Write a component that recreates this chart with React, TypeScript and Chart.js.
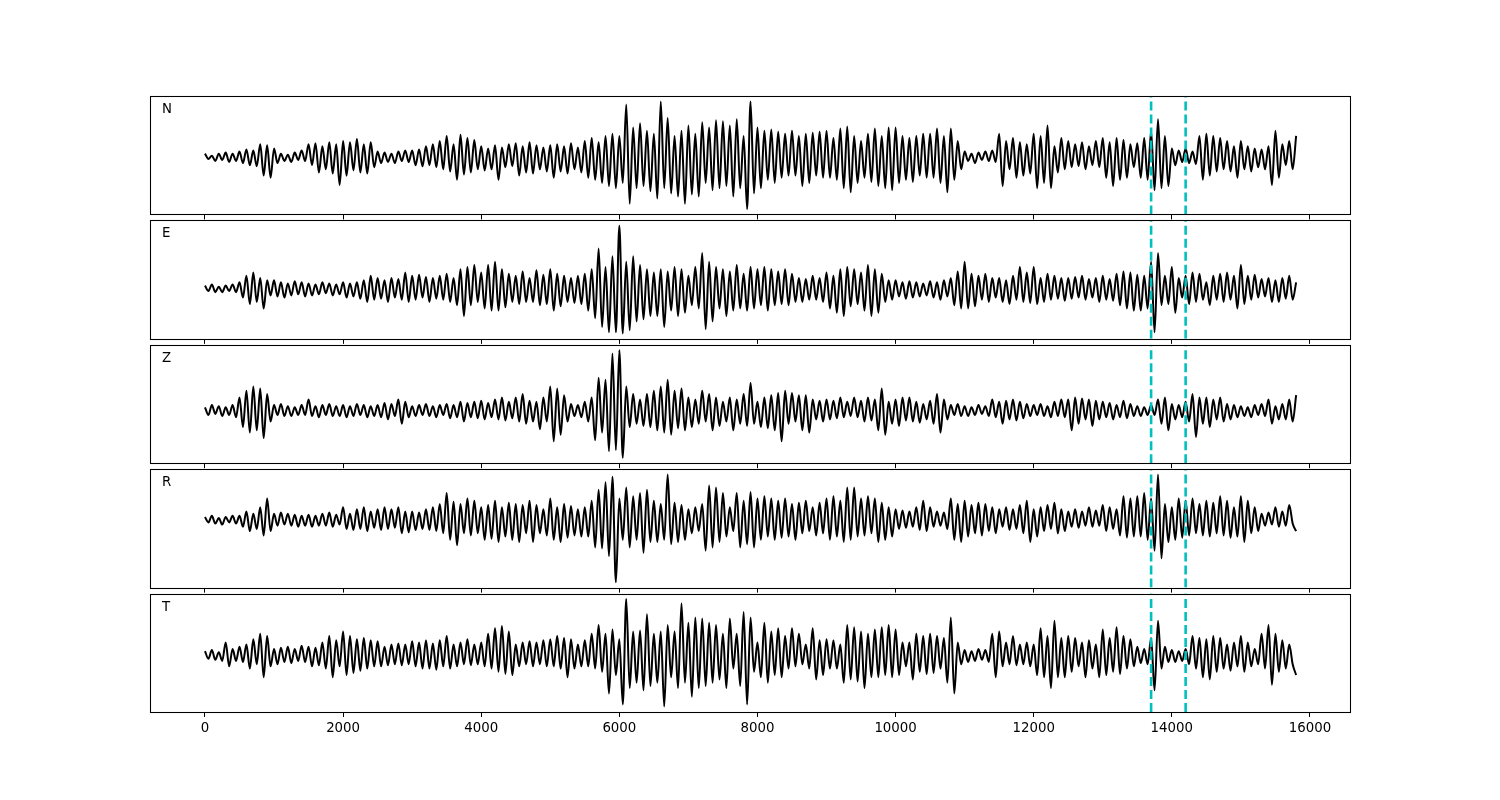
import React, { useEffect, useRef } from "react";
import { Chart, registerables } from "chart.js";

Chart.register(...registerables);

// ---------------- data ----------------
const SAMPLE_STEP = 50; // samples every 50 units along x (0 .. 15800)
const X_MIN = -796;
const X_MAX = 16580;
const X_TICKS = [0, 2000, 4000, 6000, 8000, 10000, 12000, 14000, 16000];
const X_TICK_LABELS = ["0", "2000", "4000", "6000", "8000", "10000", "12000", "14000", "16000"];
const PICK_TIMES = [13700, 14200];
const CHANNELS = ["N", "E", "Z", "R", "T"];

const N_TRACE = [
  3, -2, 1, -4, 3, -3, 4, -5, 3, -4,
  5, -6, 7, -8, 6, -9, 12, -18, 11, -20,
  8, -6, 3, -4, 2, -5, 4, -3, 6, -4,
  12, -8, 13, -15, 10, -12, 14, -16, 12, -27,
  15, -18, 14, -13, 17, -15, 12, -16, 14, -10,
  5, -6, 4, -5, 3, -6, 5, -4, 6, -5,
  6, -8, 7, -9, 10, -8, 12, -10, 15, -12,
  20, -14, 12, -22, 21, -17, 18, -15, 16, -12,
  10, -13, 8, -12, 11, -22, 9, -10, 12, -9,
  13, -18, 10, -15, 14, -16, 11, -12, 9, -14,
  11, -20, 12, -14, 10, -16, 13, -12, 9, -15,
  15, -20, 18, -22, 14, -25, 20, -28, 22, -30,
  20, -25, 50, -45, 28, -30, 32, -28, 25, -33,
  22, -40, 53, -30, 37, -35, 20, -38, 25, -45,
  30, -36, 22, -38, 33, -25, 28, -32, 35, -30,
  34, -28, 30, -38, 36, -30, 20, -50, 53, -35,
  28, -30, 25, -22, 26, -25, 24, -20, 22, -18,
  25, -18, 20, -28, 22, -25, 23, -18, 24, -20,
  25, -20, 18, -22, 27, -30, 29, -34, 20, -25,
  15, -20, 22, -24, 27, -28, 20, -30, 28, -32,
  28, -25, 20, -22, 18, -24, 20, -18, 22, -20,
  22, -20, 27, -25, 20, -34, 27, -22, 15, -12,
  5, -4, 3, -6, 4, -3, 5, -4, 6, -5,
  22, -28, 15, -12, 18, -20, 14, -18, 12, -16,
  22, -30, 20, -25, 30, -30, 10, -15, 18, -12,
  15, -10, 12, -9, 14, -12, 10, -8, 15, -10,
  18, -20, 14, -28, 18, -22, 16, -20, 12, -10,
  13, -20, 18, -22, 25, -32, 36, -30, 20, -28,
  8, -8, 6, -5, 8, -6, 5, -7, 20, -22,
  22, -18, 20, -14, 18, -12, 15, -14, 10, -20,
  15, -12, 10, -14, 8, -10, 7, -12, 10, -27,
  25, -20, 12, -8, 15, -12, 20,
];

const E_TRACE = [
  3, -2, 4, -3, 2, -3, 3, -2, 4, -3,
  6, -8, 12, -14, 15, -12, 10, -18, 8, -6,
  8, -7, 6, -8, 5, -6, 7, -5, 6, -7,
  5, -6, 4, -5, 6, -4, 5, -6, 4, -5,
  6, -8, 5, -7, 6, -9, 8, -12, 12, -10,
  10, -9, 8, -12, 10, -8, 9, -10, 15, -12,
  12, -10, 13, -8, 11, -12, 10, -9, 12, -10,
  14, -12, 10, -15, 18, -25, 20, -15, 22, -12,
  15, -18, 22, -20, 25, -20, 18, -17, 14, -12,
  12, -14, 16, -12, 10, -12, 17, -15, 13, -14,
  18, -20, 14, -16, 12, -12, 10, -13, 12, -14,
  14, -20, 18, -27, 37, -35, 20, -40, 30, -40,
  58, -41, 25, -38, 30, -30, 22, -28, 18, -25,
  15, -25, 18, -35, 16, -20, 20, -25, 18, -22,
  12, -15, 20, -18, 33, -37, 25, -30, 20, -18,
  18, -25, 16, -20, 22, -18, 14, -20, 20, -18,
  18, -15, 20, -20, 18, -15, 16, -14, 18, -15,
  14, -12, 10, -12, 9, -10, 12, -10, 10, -12,
  15, -18, 12, -22, 18, -25, 20, -16, 18, -14,
  15, -20, 22, -25, 18, -22, 14, -12, 8, -10,
  8, -7, 6, -9, 7, -8, 6, -7, 5, -6,
  7, -8, 6, -10, 8, -7, 10, -15, 16, -18,
  25, -18, 14, -16, 12, -10, 14, -12, 10, -8,
  10, -12, 8, -14, 12, -10, 20, -12, 15, -13,
  20, -14, 10, -12, 14, -10, 12, -9, 10, -11,
  10, -9, 11, -8, 12, -10, 9, -8, 10, -12,
  12, -10, 9, -11, 14, -15, 16, -18, 15, -20,
  13, -20, 12, -18, 25, -40, 33, -15, 12, -14,
  20, -22, 10, -8, 12, -14, 15, -12, 14, -10,
  6, -15, 12, -10, 14, -12, 15, -10, 12, -18,
  22, -14, 12, -10, 13, -8, 9, -7, 10, -12,
  8, -12, 10, -9, 12, -10, 6,
];

const Z_TRACE = [
  3, -4, 5, -3, 4, -5, 3, -4, 5, -6,
  12, -15, 18, -20, 22, -18, 20, -25, 15, -10,
  5, -4, 6, -5, 4, -5, 3, -4, 5, -4,
  10, -5, 4, -6, 5, -4, 6, -5, 4, -5,
  5, -6, 4, -5, 6, -4, 5, -6, 4, -5,
  5, -6, 7, -8, 6, -5, 10, -12, 8, -6,
  4, -5, 5, -4, 6, -5, 4, -6, 5, -4,
  6, -7, 5, -6, 8, -10, 7, -6, 8, -7,
  9, -8, 7, -6, 10, -8, 12, -9, 8, -7,
  12, -10, 15, -12, 9, -10, 8, -17, 12, -10,
  22, -28, 20, -22, 14, -10, 6, -5, 5, -6,
  8, -10, 12, -27, 30, -20, 28, -37, 52, -36,
  55, -43, 22, -15, 15, -12, 10, -14, 15, -15,
  18, -18, 22, -20, 28, -22, 18, -16, 20, -18,
  12, -15, 10, -12, 18, -10, 15, -18, 12, -14,
  8, -10, 12, -18, 10, -12, 15, -14, 25, -12,
  8, -15, 12, -16, 14, -18, 16, -28, 18, -12,
  16, -10, 14, -18, 14, -20, 10, -8, 9, -10,
  10, -8, 9, -7, 12, -6, 8, -5, 12, -6,
  9, -10, 12, -9, 10, -18, 20, -22, 8, -12,
  10, -14, 12, -9, 12, -10, 8, -11, 6, -8,
  9, -12, 15, -20, 10, -8, 5, -4, 6, -5,
  4, -5, 3, -4, 5, -3, 4, -5, 10, -6,
  8, -12, 9, -8, 10, -9, 8, -7, 6, -5,
  5, -4, 6, -5, 4, -6, 8, -5, 10, -6,
  10, -18, 12, -12, 11, -8, 10, -14, 9, -8,
  8, -6, 7, -8, 5, -6, 9, -7, 6, -5,
  4, -5, 3, -4, 5, -4, 10, -12, 12, -18,
  6, -8, 5, -6, 8, -10, 15, -24, 12, -12,
  12, -15, 10, -8, 12, -10, 6, -8, 5, -6,
  4, -5, 3, -6, 5, -4, 6, -5, 10, -12,
  4, -8, 6, -8, 10, -10, 14,
];

const R_TRACE = [
  3, -2, 4, -3, 2, -4, 3, -2, 4, -3,
  4, -6, 8, -10, 6, -8, 12, -14, 20, -10,
  6, -5, 7, -4, 6, -5, 5, -6, 4, -5,
  5, -6, 4, -5, 6, -5, 7, -6, 5, -4,
  12, -8, 6, -9, 10, -8, 12, -10, 8, -7,
  10, -9, 12, -8, 10, -7, 12, -12, 8, -11,
  8, -9, 7, -8, 10, -9, 12, -10, 15, -12,
  25, -18, 17, -23, 15, -12, 20, -14, 18, -12,
  12, -18, 14, -17, 18, -20, 12, -15, 16, -18,
  15, -20, 14, -12, 18, -20, 14, -12, 10, -14,
  20, -18, 12, -20, 15, -16, 13, -14, 10, -15,
  12, -15, 18, -25, 28, -26, 35, -33, 40, -57,
  20, -18, 30, -25, 22, -18, 25, -30, 28, -20,
  18, -20, 15, -18, 42, -22, 16, -20, 14, -18,
  10, -12, 12, -10, 15, -28, 32, -25, 30, -20,
  25, -15, 12, -10, 25, -25, 18, -22, 26, -25,
  20, -18, 22, -15, 20, -18, 18, -16, 20, -15,
  15, -18, 16, -12, 18, -10, 12, -14, 16, -12,
  20, -18, 22, -15, 18, -20, 30, -18, 30, -15,
  20, -14, 22, -12, 20, -20, 16, -18, 12, -15,
  10, -8, 9, -7, 8, -6, 12, -9, 18, -10,
  12, -6, 8, -5, 7, -8, 20, -18, 15, -20,
  18, -15, 14, -12, 16, -14, 15, -10, 12, -12,
  10, -6, 12, -9, 10, -8, 14, -12, 18, -20,
  10, -15, 12, -10, 14, -8, 16, -12, 10, -10,
  8, -6, 10, -7, 8, -5, 12, -6, 9, -5,
  14, -10, 12, -8, 10, -14, 22, -16, 20, -15,
  22, -15, 25, -18, 20, -28, 42, -35, 15, -20,
  12, -18, 20, -16, 18, -14, 20, -12, 15, -14,
  18, -15, 16, -12, 22, -14, 18, -16, 12, -15,
  22, -20, 18, -12, 12, -10, 6, -5, 7, -4,
  12, -6, 8, -5, 14, -3, -10,
];

const T_TRACE = [
  4, -3, 5, -4, 3, -5, 12, -10, 6, -5,
  8, -6, 10, -12, 15, -8, 20, -20, 18, -10,
  6, -8, 7, -6, 8, -7, 6, -5, 9, -6,
  8, -10, 7, -9, 12, -12, 18, -20, 14, -10,
  22, -18, 18, -16, 15, -14, 16, -12, 14, -10,
  13, -10, 8, -9, 10, -8, 11, -9, 10, -8,
  13, -10, 12, -12, 14, -12, 11, -13, 14, -10,
  18, -12, 10, -10, 12, -8, 15, -9, 10, -8,
  12, -10, 20, -12, 25, -15, 27, -17, 22, -18,
  10, -10, 12, -8, 13, -10, 12, -8, 14, -10,
  15, -10, 18, -12, 16, -20, 15, -12, 10, -10,
  14, -10, 20, -12, 28, -15, 20, -35, 24, -18,
  15, -45, 52, -30, 22, -25, 23, -32, 38, -28,
  20, -25, 22, -47, 28, -20, 22, -30, 48, -25,
  30, -38, 35, -30, 34, -28, 30, -25, 28, -22,
  20, -30, 34, -12, 20, -28, 40, -45, 35, -15,
  12, -20, 30, -25, 22, -18, 25, -20, 18, -12,
  25, -10, 20, -8, 10, -12, 25, -22, 14, -18,
  15, -12, 14, -12, 10, -25, 28, -22, 26, -24,
  22, -30, 20, -20, 24, -20, 26, -18, 28, -20,
  24, -18, 12, -10, 12, -22, 20, -15, 18, -17,
  20, -16, 18, -12, 16, -25, 35, -35, 12, -8,
  5, -6, 4, -5, 6, -4, 5, -6, 20, -20,
  22, -10, 12, -8, 18, -9, 10, -8, 12, -10,
  10, -18, 25, -20, 18, -30, 32, -20, 16, -20,
  18, -15, 16, -10, 12, -20, 14, -12, 10, -20,
  24, -18, 16, -15, 26, -17, 18, -12, 15, -10,
  8, -7, 6, -8, 16, -32, 32, -12, 8, -6,
  5, -6, 4, -5, 6, -8, 18, -12, 16, -20,
  15, -22, 18, -15, 16, -12, 10, -14, 12, -10,
  18, -15, 12, -10, 6, -8, 20, -12, 28, -27,
  20, -15, 14, -12, 10, -8, -18,
];

const TRACES = [N_TRACE, E_TRACE, Z_TRACE, R_TRACE, T_TRACE];

// ---------------- layout ----------------
const FIG_W = 1500;
const FIG_H = 800;
const AX_LEFT = 150;
const AX_RIGHT = 1350;
const AX_TOP = 96;
const AX_BOTTOM = 712;
const H_SPACE = 0.05;
const N_AX = CHANNELS.length;
const AX_H = (AX_BOTTOM - AX_TOP) / (N_AX + H_SPACE * (N_AX - 1));
const AX_GAP = AX_H * H_SPACE;

const FONT = '"DejaVu Sans", "Liberation Sans", sans-serif';
const TRACE_COLOR = "#000000";
const PICK_COLOR = "#00bfbf";

const framePlugin = {
  id: "frame",
  afterDraw(chart: any, _args: any, opts: any) {
    const { ctx, chartArea: a } = chart;
    ctx.save();
    ctx.strokeStyle = "#000";
    ctx.lineWidth = 1.07;
    const l = Math.round(a.left) + 0.5;
    const t = Math.round(a.top) + 0.5;
    const r = Math.round(a.right) + 0.5;
    const b = Math.round(a.bottom) + 0.5;
    ctx.strokeRect(l, t, r - l, b - t);
    ctx.fillStyle = "#000";
    ctx.font = `13.33px ${FONT}`;
    ctx.textBaseline = "alphabetic";
    ctx.textAlign = "left";
    ctx.fillText(opts.label || "", a.left + 12, a.top + 17);
    ctx.restore();
  },
};

function makeConfig(idx: number): any {
  const values = TRACES[idx];
  const isLast = idx === N_AX - 1;
  const top = AX_TOP + idx * (AX_H + AX_GAP);
  const bottom = top + AX_H;
  const axisH = isLast ? 30 : 5;
  const dMin = Math.min(...values);
  const dMax = Math.max(...values);
  const margin = (dMax - dMin) * 0.05;
  const yMin = dMin - margin;
  const yMax = dMax + margin;

  const traceData = values.map((v, i) => ({ x: i * SAMPLE_STEP, y: v }));
  const pickSets = PICK_TIMES.map((t) => ({
    data: [
      { x: t, y: yMin },
      { x: t, y: yMax },
    ],
    borderColor: PICK_COLOR,
    borderWidth: 2.6,
    borderDash: [9, 4],
    borderCapStyle: "butt",
    pointRadius: 0,
    tension: 0,
    fill: false,
  }));

  return {
    type: "line",
    data: {
      datasets: [
        ...pickSets,
        {
          data: traceData,
          borderColor: TRACE_COLOR,
          borderWidth: 2,
          borderJoinStyle: "round",
          pointRadius: 0,
          cubicInterpolationMode: "monotone",
          fill: false,
        },
      ],
    },
    options: {
      responsive: false,
      maintainAspectRatio: false,
      devicePixelRatio: 1,
      animation: false,
      events: [],
      layout: {
        padding: {
          left: AX_LEFT,
          right: FIG_W - AX_RIGHT,
          top: top,
          bottom: FIG_H - bottom - axisH,
        },
      },
      plugins: {
        legend: { display: false },
        tooltip: { enabled: false },
        frame: { label: CHANNELS[idx] },
      },
      scales: {
        x: {
          type: "linear",
          min: X_MIN,
          max: X_MAX,
          position: "bottom",
          border: { display: false },
          grid: {
            display: true,
            drawOnChartArea: false,
            drawTicks: true,
            tickLength: 5,
            color: "#000",
            lineWidth: 1,
          },
          ticks: {
            display: isLast,
            autoSkip: false,
            maxRotation: 0,
            padding: 4,
            color: "#000",
            font: { family: FONT, size: 13.33 },
            callback: (v: number) => {
              const k = X_TICKS.indexOf(v);
              return k >= 0 ? X_TICK_LABELS[k] : "";
            },
          },
          afterBuildTicks: (scale: any) => {
            scale.ticks = X_TICKS.map((v) => ({ value: v }));
          },
          afterFit: (scale: any) => {
            scale.height = axisH;
          },
        },
        y: {
          type: "linear",
          display: false,
          min: yMin,
          max: yMax,
        },
      },
    },
    plugins: [framePlugin],
  };
}

function TracePanel({ idx }: { idx: number }) {
  const ref = useRef<HTMLCanvasElement | null>(null);
  useEffect(() => {
    if (!ref.current) return;
    const chart = new Chart(ref.current, makeConfig(idx));
    return () => chart.destroy();
  }, [idx]);
  return (
    <canvas
      ref={ref}
      width={FIG_W}
      height={FIG_H}
      style={{ position: "absolute", left: 0, top: 0, width: FIG_W, height: FIG_H }}
    />
  );
}

export default function App() {
  return (
    <div
      style={{
        position: "absolute",
        left: 0,
        top: 0,
        width: FIG_W,
        height: FIG_H,
        background: "#ffffff",
        overflow: "hidden",
      }}
    >
      {CHANNELS.map((c, i) => (
        <TracePanel key={c} idx={i} />
      ))}
    </div>
  );
}
